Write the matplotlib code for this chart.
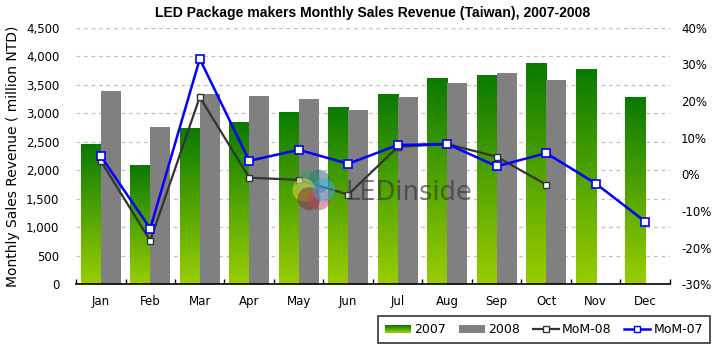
import numpy as np
import matplotlib
matplotlib.use("Agg")
import matplotlib.pyplot as plt
from matplotlib.colors import LinearSegmentedColormap
from matplotlib.patches import Rectangle, Circle
from matplotlib.lines import Line2D
from matplotlib.legend_handler import HandlerBase
from matplotlib.ticker import FuncFormatter, FixedLocator

months = ["Jan", "Feb", "Mar", "Apr", "May", "Jun",
          "Jul", "Aug", "Sep", "Oct", "Nov", "Dec"]
sales_2007 = [2443, 2080, 2724, 2829, 3005, 3092, 3320, 3601, 3654, 3864, 3759, 3268]
sales_2008 = [3390, 2759, 3338, 3303, 3250, 3057, 3285, 3531, 3706, 3583]
mom_07 = [5.0, -14.8, 31.5, 3.7, 6.7, 2.9, 8.0, 8.3, 2.2, 5.8, -2.5, -12.9]
mom_08 = [3.7, -18.1, 21.1, -0.9, -1.5, -5.5, 7.5, 8.3, 4.8, -2.8]

green = LinearSegmentedColormap.from_list("g", ["#9acd00", "#0a7a00"])
gray = "#808080"
fs = 8.5

fig = plt.figure(figsize=(7.2, 3.5), dpi=100)
ax = fig.add_axes([76 / 720, 1 - 284.3 / 350, 594 / 720, 256.5 / 350])

x = np.arange(len(months))
w = 0.405
grad = np.linspace(0, 1, 256).reshape(-1, 1)

# 2007 bars with vertical gradient (dark on top)
for xi, v in zip(x, sales_2007):
    ax.imshow(grad, cmap=green, origin="lower", aspect="auto",
              extent=[xi - w, xi, 0, v], zorder=2, interpolation="bilinear")
ax.bar(x[:len(sales_2008)] + w / 2, sales_2008, width=w, color=gray, zorder=2)

ax.set_xlim(-0.5, 11.5)
ax.set_ylim(0, 4500)
ax.set_yticks(np.arange(0, 4501, 500))
ax.yaxis.set_major_formatter(FuncFormatter(lambda v, p: f"{int(v):,}"))
ax.grid(axis="y", color="#c0c0c0", linestyle=(0, (3, 3)), linewidth=0.9, zorder=0)
ax.set_axisbelow(True)
for s in ["left", "right", "top"]:
    ax.spines[s].set_visible(False)
ax.spines["bottom"].set_linewidth(1.2)
ax.set_xticks(x)
ax.set_xticklabels(months, fontsize=fs)
ax.tick_params(axis="x", which="major", length=0, pad=8)
ax.xaxis.set_minor_locator(FixedLocator(np.arange(-0.5, 12, 1)))
ax.tick_params(axis="x", which="minor", direction="in", length=3.5, width=1)
ax.tick_params(axis="y", length=0, labelsize=fs, pad=12)
ax.set_ylabel("Monthly Sales Revenue ( million NTD)", fontsize=10, labelpad=4)

ax2 = ax.twinx()
ax2.plot(x[:len(mom_08)], np.array(mom_08) / 100, color="#333333", lw=1.6,
         marker="s", ms=5, mfc="white", mec="#333333", mew=1, zorder=3)
ax2.plot(x, np.array(mom_07) / 100, color="#0000ff", lw=1.8,
         marker="s", ms=5.5, mfc="white", mec="#0000ff", mew=1.2, zorder=4)
ax2.set_ylim(-0.30, 0.40)
ax2.set_yticks(np.arange(-0.3, 0.41, 0.1))
ax2.yaxis.set_major_formatter(FuncFormatter(lambda v, p: f"{round(v * 100):d}%"))
ax2.tick_params(axis="y", length=0, labelsize=fs, pad=8)
for s in ["left", "right", "top", "bottom"]:
    ax2.spines[s].set_visible(False)

fig.text(373 / 720, 1 - 13 / 350,
         "LED Package makers Monthly Sales Revenue (Taiwan), 2007-2008",
         ha="center", va="center", fontsize=10.1, fontweight="bold",
         family="Liberation Sans")

# LEDinside watermark
wm = fig.add_axes([(314 - 24) / 720, 1 - (190 + 24) / 350, 48 / 720, 48 / 350])
wm.set_xlim(-24, 24)
wm.set_ylim(-24, 24)
wm.set_aspect("equal")
wm.axis("off")
petals = ["#1f5f6a", "#3aa06a", "#f0e040", "#6a3a10", "#c04060", "#40a8e0"]
for i, c in enumerate(petals):
    a = np.pi / 2 + i * np.pi / 3 - np.pi / 6
    wm.add_patch(Circle((10 * np.cos(a), 10 * np.sin(a)), 11.5, color=c, alpha=0.5, lw=0))
fig.text(345 / 720, 1 - 200 / 350, "LEDinside", fontsize=18.5, color="#303030",
         alpha=0.6, ha="left", va="baseline")


class GradHandler(HandlerBase):
    def create_artists(self, legend, orig, xd, yd, width, height, fontsize, trans):
        n = 8
        arts = []
        for i in range(n):
            r = Rectangle((-xd, -yd + height * i / n), width, height / n,
                          facecolor=green(i / (n - 1)), edgecolor="none", transform=trans)
            arts.append(r)
        return arts


h07 = Rectangle((0, 0), 1, 1)
h08 = Rectangle((0, 0), 1, 1, facecolor=gray, edgecolor="none")
hm08 = Line2D([], [], color="#333333", lw=1.6, marker="s", ms=5, mfc="white", mec="#333333")
hm07 = Line2D([], [], color="#0000ff", lw=1.8, marker="s", ms=5, mfc="white", mec="#0000ff")
leg = fig.legend([h07, h08, hm08, hm07], ["2007", "2008", "MoM-08", "MoM-07"],
                 handler_map={h07: GradHandler()}, ncol=4, loc="lower right",
                 bbox_to_anchor=(710 / 720, 7 / 350), borderaxespad=0, fontsize=fs + 0.5,
                 frameon=True, fancybox=False, edgecolor="black", borderpad=0.55,
                 handlelength=2.1, handleheight=0.6, columnspacing=1.0, handletextpad=0.25)
leg.get_frame().set_linewidth(1.2)

fig.savefig("out.png", dpi=100)
